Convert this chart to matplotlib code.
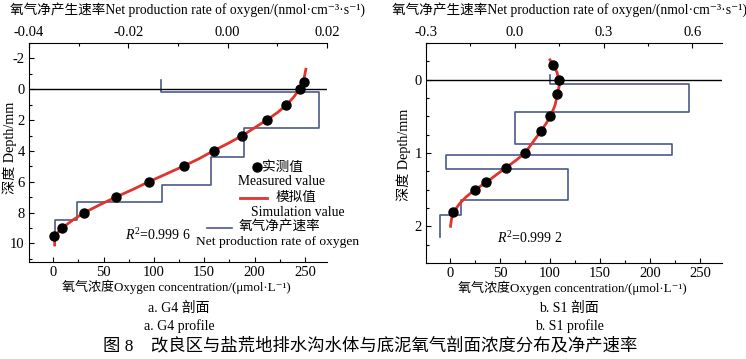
import matplotlib
matplotlib.use('Agg')
import numpy as np
import matplotlib.pyplot as plt
from matplotlib.ticker import MultipleLocator, FormatStrFormatter
from matplotlib.lines import Line2D

plt.rcParams['font.family'] = ['Liberation Serif', 'Noto Sans CJK SC', 'DejaVu Sans']
plt.rcParams['mathtext.fontset'] = 'custom'
plt.rcParams['mathtext.rm'] = 'Liberation Serif'
plt.rcParams['mathtext.it'] = 'Liberation Serif:italic'
plt.rcParams['axes.unicode_minus'] = False

# ---------------- data ----------------
# G4 profile
g4_meas_conc = [248.8, 244.9, 231.6, 212.4, 187.6, 159.4, 129.5, 95.4, 62.3, 31.1, 8.9, 1.0]
g4_meas_depth = [-0.45, 0.0, 1.0, 2.0, 3.0, 4.0, 5.0, 6.0, 7.0, 8.0, 9.0, 9.5]
g4_sim_conc = [1.5, 1.5, 2.5, 5, 9, 19, 31, 46, 62, 79, 95, 112, 129, 145, 159, 174, 188,
               200, 212, 223, 232, 239, 244.5, 247.5, 249.5, 251]
g4_sim_depth = [10.1, 9.8, 9.5, 9.25, 9.0, 8.5, 8.0, 7.5, 7.0, 6.5, 6.0, 5.5, 5.0, 4.5, 4.0,
                3.5, 3.0, 2.5, 2.0, 1.5, 1.0, 0.5, 0.0, -0.4, -0.8, -1.3]
g4_rate_bounds = [-0.6, 0.17, 2.54, 4.37, 6.19, 7.33, 8.5, 9.6]
g4_rates = [-0.0135, 0.0183, 0.0033, -0.0034, -0.0132, -0.0303, -0.0348]

# S1 profile
s1_meas_conc = [103.3, 109.3, 107.0, 100.3, 91.0, 74.7, 55.7, 36.3, 25.0, 2.7]
s1_meas_depth = [-0.2, 0.0, 0.2, 0.5, 0.7, 1.0, 1.2, 1.4, 1.5, 1.8]
s1_sim_conc = [100, 103.3, 107, 109, 109, 107.5, 105, 100.5, 96, 91, 83, 75, 66, 56, 46,
               36.5, 25, 16, 9, 4, 1.5, 0.5]
s1_sim_depth = [-0.27, -0.2, -0.1, 0.0, 0.1, 0.2, 0.35, 0.5, 0.6, 0.7, 0.85, 1.0, 1.1, 1.2,
                1.3, 1.4, 1.5, 1.6, 1.7, 1.8, 1.9, 2.0]
s1_rate_bounds = [-0.07, 0.06, 0.44, 0.88, 1.03, 1.22, 1.64, 1.84, 2.15]
s1_rates = [0.119, 0.590, 0.002, 0.530, -0.232, 0.181, -0.182, -0.253]

r2_g4 = '0.999 6'
r2_s1 = '0.999 2'

top_label = '氧气净产生速率Net production rate of oxygen/(nmol·cm⁻³·s⁻¹)'
bot_label = '氧气浓度Oxygen concentration/(μmol·L⁻¹)'
y_label = '深度 Depth/mm'

RED = '#e0342c'
BLUE = '#4c5a8a'

W, H = 746, 359
fig = plt.figure(figsize=(W / 100, H / 100), dpi=100)


def fx(x):
    return x / W


def fy(y):
    return 1 - y / H


def step_path(bounds, rates):
    b = np.asarray(bounds)
    r = np.asarray(rates)
    xs = np.repeat(r, 2)
    ys = np.column_stack([b[:-1], b[1:]]).ravel()
    return xs, ys


def make_panel(rect, xlim, ylim, toplim, topmaj, topmin, topfmt, ymaj, ymin):
    ax = fig.add_axes(rect)
    axt = ax.twiny()
    ax.set_zorder(axt.get_zorder() + 1)
    ax.patch.set_visible(False)
    ax.set_xlim(*xlim)
    ax.set_ylim(*ylim)
    axt.set_xlim(*toplim)
    for s in ['top', 'right']:
        ax.spines[s].set_visible(False)
    for s in ['bottom', 'left', 'right']:
        axt.spines[s].set_visible(False)
    ax.xaxis.set_major_locator(MultipleLocator(50))
    ax.xaxis.set_minor_locator(MultipleLocator(25))
    ax.yaxis.set_major_locator(MultipleLocator(ymaj))
    ax.yaxis.set_minor_locator(MultipleLocator(ymin))
    axt.xaxis.set_major_locator(MultipleLocator(topmaj))
    axt.xaxis.set_minor_locator(MultipleLocator(topmin))
    axt.xaxis.set_major_formatter(FormatStrFormatter(topfmt))
    for a in (ax, axt):
        a.tick_params(which='both', direction='in', labelsize=10.5, width=0.8, pad=3)
        a.tick_params(which='major', length=3.5)
        a.tick_params(which='minor', length=2)
    ax.tick_params(right=False, top=False, which='both')
    ax.axhline(0, color='black', lw=1.0, zorder=1)
    return ax, axt


# ---------- left panel (G4) ----------
axL, axLt = make_panel([fx(29), fy(262), fx(327) - fx(29), fy(43) - fy(262)],
                       (-24, 272), (11.2, -3), (-0.04, 0.02), 0.02, 0.01, '%.2f', 2, 1)
xs, ys = step_path(g4_rate_bounds, g4_rates)
axLt.plot(xs, ys, color=BLUE, lw=1.2)
axL.plot(g4_sim_conc, g4_sim_depth, color=RED, lw=2.0, zorder=3)
axL.plot(g4_meas_conc, g4_meas_depth, 'o', color='black', ms=6.5, zorder=4)

# ---------- right panel (S1) ----------
axR, axRt = make_panel([fx(426), fy(263), fx(722) - fx(426), fy(43) - fy(263)],
                       (-24, 272), (2.5, -0.5), (-0.3, 0.7), 0.3, 0.15, '%.1f', 1, 0.25)
xs, ys = step_path(s1_rate_bounds, s1_rates)
axRt.plot(xs, ys, color=BLUE, lw=1.2)
axR.plot(s1_sim_conc, s1_sim_depth, color=RED, lw=2.0, zorder=3)
axR.plot(s1_meas_conc, s1_meas_depth, 'o', color='black', ms=6.5, zorder=4)

# ---------- axis labels ----------
fig.text(fx(188), fy(10), top_label, ha='center', va='center', fontsize=9.8)
fig.text(fx(569), fy(10), top_label, ha='center', va='center', fontsize=9.8)
fig.text(fx(176), fy(287), bot_label, ha='center', va='center', fontsize=9.4)
fig.text(fx(572), fy(288), bot_label, ha='center', va='center', fontsize=9.4)
fig.text(fx(10), fy(148), y_label, ha='center', va='center', rotation=90, fontsize=10.2)
fig.text(fx(404), fy(155), y_label, ha='center', va='center', rotation=90, fontsize=10.2)

# R^2
fig.text(fx(125), fy(235), r'$R^2$=' + r2_g4, ha='left', va='center', fontsize=10)
fig.text(fx(497), fy(238), r'$R^2$=' + r2_s1, ha='left', va='center', fontsize=10)

# ---------- legend (left panel) ----------
fig.add_artist(Line2D([fx(257)], [fy(167)], marker='o', color='black', ms=6.5, ls='none'))
fig.text(fx(262), fy(167), '实测值', ha='left', va='center', fontsize=9.8)
fig.text(fx(238), fy(181), 'Measured value', ha='left', va='center', fontsize=9.8)
fig.add_artist(Line2D([fx(240), fx(267)], [fy(198), fy(198)], color=RED, lw=2.0))
fig.text(fx(276), fy(197), '模拟值', ha='left', va='center', fontsize=9.8)
fig.text(fx(251), fy(212), 'Simulation value', ha='left', va='center', fontsize=9.8)
fig.add_artist(Line2D([fx(207), fx(232)], [fy(228), fy(228)], color=BLUE, lw=1.2))
fig.text(fx(239), fy(227), '氧气净产速率', ha='left', va='center', fontsize=9.8)
fig.text(fx(196), fy(242), 'Net production rate of oxygen', ha='left', va='center', fontsize=9.7)

# ---------- captions ----------
fig.text(fx(179), fy(308), 'a. G4 剖面', ha='center', va='center', fontsize=10)
fig.text(fx(179), fy(326), 'a. G4 profile', ha='center', va='center', fontsize=10)
fig.text(fx(569), fy(308), 'b. S1 剖面', ha='center', va='center', fontsize=10)
fig.text(fx(569), fy(326), 'b. S1 profile', ha='center', va='center', fontsize=10)
fig.text(fx(370), fy(346), '图 8    改良区与盐荒地排水沟水体与底泥氧气剖面浓度分布及净产速率',
         ha='center', va='center', fontsize=12.5)

fig.savefig('out.png', dpi=100)
